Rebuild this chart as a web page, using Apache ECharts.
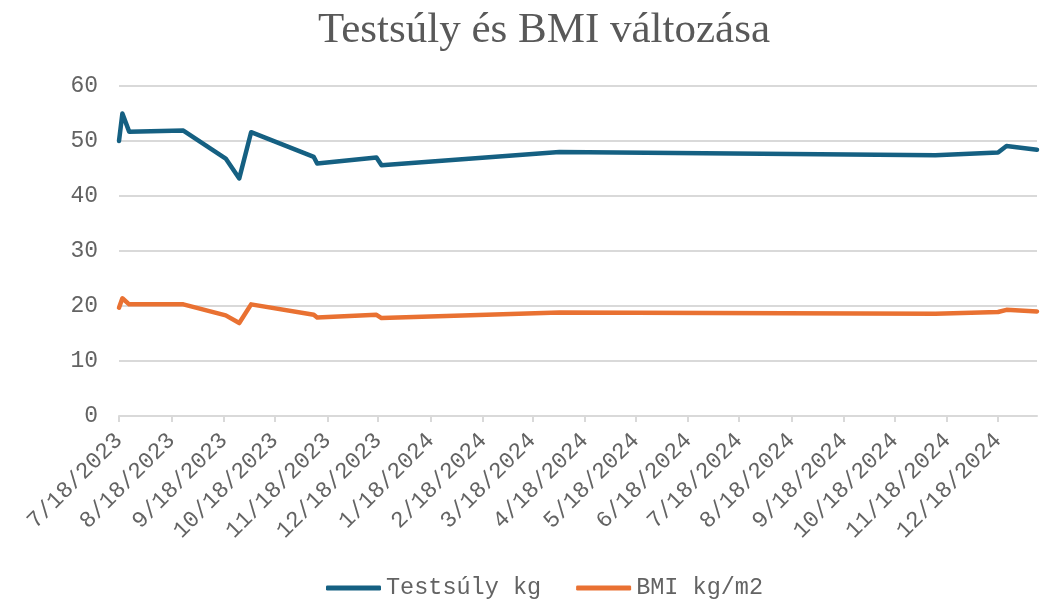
<!DOCTYPE html>
<html>
<head>
<meta charset="utf-8">
<script src="https://cdn.jsdelivr.net/npm/echarts@6/dist/echarts.min.js"></script>
<style>
html,body{margin:0;padding:0;background:#fff;}
#chart{width:1046px;height:600px;}
</style>
</head>
<body>
<div id="chart"></div>
<script>
// ---- data ----
var titleText = 'Testsúly és BMI változása';
var seriesNames = ['Testsúly kg', 'BMI kg/m2'];
var dates = ['2023-07-18','2023-07-20','2023-07-24','2023-08-25','2023-09-19','2023-09-27','2023-10-04',
             '2023-11-10','2023-11-12','2023-12-17','2023-12-20','2024-04-03','2024-11-11','2024-12-18',
             '2024-12-23','2025-01-10'];
var weight = [50.0, 55.0, 51.7, 51.9, 46.8, 43.2, 51.6, 47.1, 45.9, 47.0, 45.6, 48.0, 47.4, 47.9, 49.1, 48.4];
var bmi    = [19.7, 21.4, 20.3, 20.3, 18.3, 16.9, 20.3, 18.4, 17.9, 18.4, 17.8, 18.8, 18.6, 18.9, 19.3, 19.0];
var tickLabels = ['7/18/2023','8/18/2023','9/18/2023','10/18/2023','11/18/2023','12/18/2023',
                  '1/18/2024','2/18/2024','3/18/2024','4/18/2024','5/18/2024','6/18/2024',
                  '7/18/2024','8/18/2024','9/18/2024','10/18/2024','11/18/2024','12/18/2024'];
var axisStart = '2023-07-18';
var axisEnd = '2025-01-10';
var yTicks = [0, 10, 20, 30, 40, 50, 60];

// ---- helpers ----
function parseISO(s){ var p = s.split('-'); return Date.UTC(+p[0], +p[1]-1, +p[2]); }
function parseMDY(s){ var p = s.split('/'); return Date.UTC(+p[2], +p[0]-1, +p[1]); }
function fmt(v){ var d = new Date(v); return (d.getUTCMonth()+1) + '/' + d.getUTCDate() + '/' + d.getUTCFullYear(); }

var tickValues = tickLabels.map(parseMDY);
var wData = dates.map(function(d,i){ return [parseISO(d), weight[i]]; });
var bData = dates.map(function(d,i){ return [parseISO(d), bmi[i]]; });

var textColor = '#636363';
var gridColor = '#D9D9D9';
var mono = '"Liberation Mono", "DejaVu Sans Mono", monospace';

var chart = echarts.init(document.getElementById('chart'), null, {renderer:'canvas'});
chart.setOption({
  animation: false,
  backgroundColor: '#ffffff',
  title: {
    text: titleText,
    left: 313,
    top: 4,
    padding: 5,
    textStyle: { fontFamily: '"Liberation Serif", "DejaVu Serif", serif', fontSize: 43, fontWeight: 'normal', color: '#595959' }
  },
  legend: {
    data: seriesNames,
    bottom: 0,
    left: 326,
    padding: 0,
    itemWidth: 55,
    itemHeight: 5,
    itemGap: 35,
    icon: 'roundRect',
    textStyle: { fontFamily: mono, fontSize: 23.5, color: textColor }
  },
  grid: { left: 119, right: 9, top: 86, bottom: 184, containLabel: false },
  xAxis: {
    type: 'value',
    min: parseISO(axisStart),
    max: parseISO(axisEnd),
    axisLine: { show: true, onZero: false, lineStyle: { color: gridColor, width: 2 } },
    axisTick: { show: true, length: 6, lineStyle: { color: gridColor, width: 2 }, customValues: tickValues },
    axisLabel: {
      customValues: tickValues,
      rotate: 45,
      margin: 21,
      fontFamily: mono,
      fontSize: 23,
      color: textColor,
      formatter: function(v){ return fmt(v); }
    },
    splitLine: { show: false }
  },
  yAxis: {
    type: 'value',
    min: yTicks[0],
    max: yTicks[yTicks.length-1],
    interval: 10,
    axisLine: { show: false },
    axisTick: { show: false },
    axisLabel: { fontFamily: mono, fontSize: 23, color: textColor, margin: 21 },
    splitLine: { lineStyle: { color: gridColor, width: 2 } }
  },
  series: [
    {
      name: seriesNames[0], type: 'line', data: wData, showSymbol: false, symbol: 'none',
      lineStyle: { color: '#156082', width: 4.5, cap: 'round', join: 'round' },
      itemStyle: { color: '#156082' }
    },
    {
      name: seriesNames[1], type: 'line', data: bData, showSymbol: false, symbol: 'none',
      lineStyle: { color: '#E97132', width: 4.5, cap: 'round', join: 'round' },
      itemStyle: { color: '#E97132' }
    }
  ]
});
</script>
</body>
</html>
